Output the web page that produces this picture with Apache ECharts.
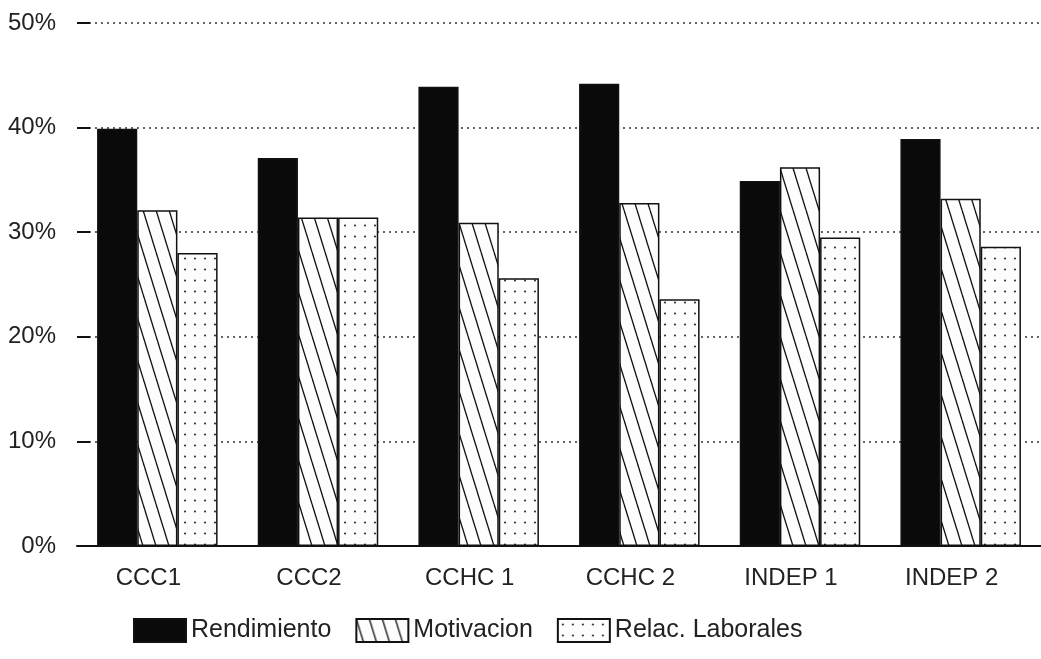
<!DOCTYPE html>
<html>
<head>
<meta charset="utf-8">
<script src="https://cdn.jsdelivr.net/npm/echarts@6/dist/echarts.min.js"></script>
<style>
html,body{margin:0;padding:0;background:#fff;}
#chart{width:1041px;height:659px;}
</style>
</head>
<body>
<div id="chart"></div>
<script>
var categories = ['CCC1', 'CCC2', 'CCHC 1', 'CCHC 2', 'INDEP 1', 'INDEP 2'];
var rendimiento = [39.9, 37.1, 43.9, 44.2, 34.9, 38.9];
var motivacion = [32.1, 31.4, 30.9, 32.8, 36.2, 33.2];
var relacLaborales = [28.0, 31.4, 25.6, 23.6, 29.5, 28.6];
var seriesNames = ['Rendimiento', 'Motivacion', 'Relac. Laborales'];
var yTicks = [0, 10, 20, 30, 40, 50];

function hatchPattern() {
  var W = 13, H = 42;
  var c = document.createElement('canvas');
  c.width = W; c.height = H;
  var g = c.getContext('2d');
  g.fillStyle = '#fdfdfd';
  g.fillRect(0, 0, W, H);
  g.strokeStyle = '#111';
  g.lineWidth = 1.3;
  for (var k = -1; k <= 1; k++) {
    g.beginPath();
    g.moveTo(k * W, 0);
    g.lineTo(k * W + W, H);
    g.stroke();
  }
  return c;
}
function dotPattern() {
  var W = 10, H = 11;
  var c = document.createElement('canvas');
  c.width = W; c.height = H;
  var g = c.getContext('2d');
  g.fillStyle = '#fdfdfd';
  g.fillRect(0, 0, W, H);
  g.fillStyle = '#333';
  g.beginPath();
  g.arc(5, 5.5, 1.1, 0, Math.PI * 2);
  g.fill();
  return c;
}

var fontFam = '"Liberation Sans", Arial, sans-serif';
var chart = echarts.init(document.getElementById('chart'));
var border = {borderColor: '#111', borderWidth: 1.5};
var option = {
  backgroundColor: '#fff',
  animation: false,
  grid: {left: 77, right: -9, top: 23, bottom: 113, containLabel: false},
  legend: {
    data: seriesNames,
    icon: 'rect',
    left: 128,
    top: 613,
    itemWidth: 52,
    itemHeight: 23,
    itemGap: 24,
    textStyle: {fontFamily: fontFam, fontSize: 25, color: '#222'}
  },
  xAxis: {
    type: 'category',
    data: categories,
    axisLine: {lineStyle: {color: '#111', width: 2}},
    axisTick: {show: false},
    axisLabel: {fontFamily: fontFam, fontSize: 24, color: '#222', margin: 20, padding: [0, 18, 0, 0]}
  },
  yAxis: {
    type: 'value',
    min: 0,
    max: 50,
    interval: 10,
    axisLine: {show: false},
    axisTick: {show: true, inside: true, length: 13, lineStyle: {color: '#111', width: 2}},
    axisLabel: {
      fontFamily: fontFam, fontSize: 24, color: '#222', margin: 21,
      formatter: function (v) { return yTicks.indexOf(v) >= 0 ? v + '%' : ''; }
    },
    splitLine: {show: true, lineStyle: {color: '#333', width: 1.6, type: [2, 4]}}
  },
  series: [
    {name: seriesNames[0], type: 'bar', data: rendimiento, barGap: '0%', barCategoryGap: '25%',
     itemStyle: Object.assign({color: '#0a0a0a'}, border)},
    {name: seriesNames[1], type: 'bar', data: motivacion, barGap: '0%', barCategoryGap: '25%',
     itemStyle: Object.assign({color: {image: hatchPattern(), repeat: 'repeat'}}, border)},
    {name: seriesNames[2], type: 'bar', data: relacLaborales, barGap: '0%', barCategoryGap: '25%',
     itemStyle: Object.assign({color: {image: dotPattern(), repeat: 'repeat'}}, border)}
  ]
};
chart.setOption(option);
</script>
</body>
</html>
